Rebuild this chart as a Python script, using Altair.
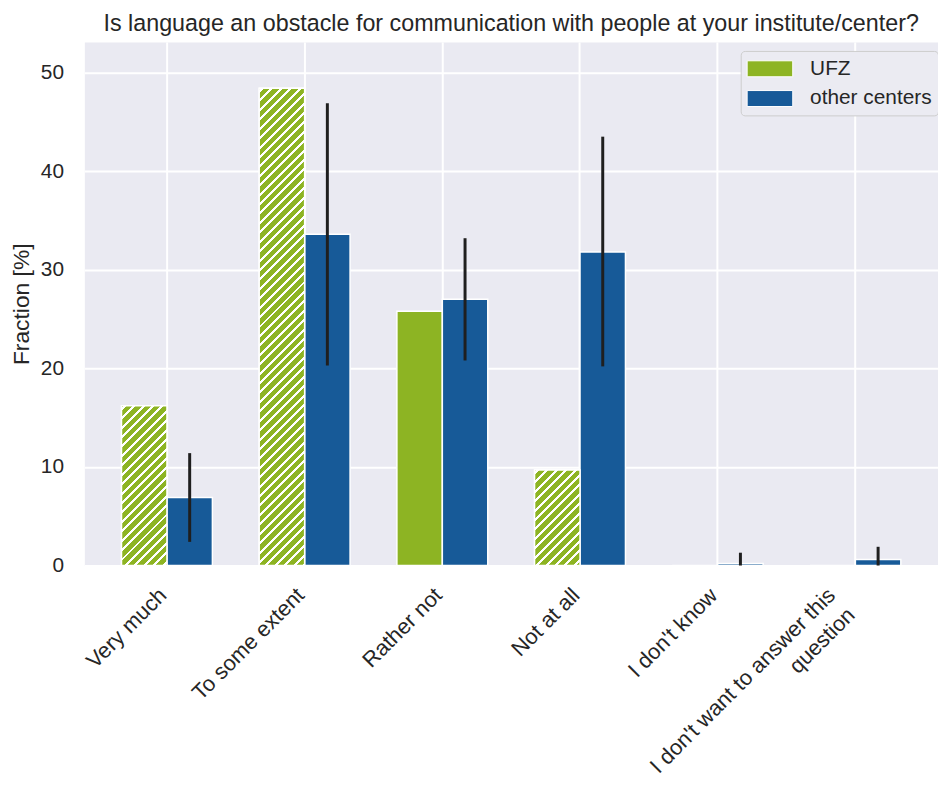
import altair as alt
import pandas as pd

# ---- data ----
categories = ["Very much", "To some extent", "Rather not", "Not at all",
              "I don't know", "I don't want to answer this\nquestion"]
groups = ["UFZ", "other centers"]
ufz_values = [16.2, 48.4, 25.8, 9.7, 0.0, 0.0]
other_values = [6.9, 33.6, 27.0, 31.8, 0.2, 0.6]
other_low = [2.4, 20.3, 20.8, 20.2, 0.0, 0.0]
other_high = [11.4, 46.9, 33.2, 43.5, 1.3, 1.9]
ufz_hatched = [True, True, False, True, False, False]
y_ticks = [0, 10, 20, 30, 40, 50]

# ---- style ----
colors = ["#8db423", "#175a98"]
bg = "#eaeaf2"
txt = "#262626"
font = "Liberation Sans"
W, H = 861, 528
YMAX = 53.1
P_INNER, P_OUTER = 0.34, 0.27

rows = []
for i, c in enumerate(categories):
    rows.append({"category": c, "group": groups[0], "value": ufz_values[i],
                 "lo": None, "hi": None})
    rows.append({"category": c, "group": groups[1], "value": other_values[i],
                 "lo": other_low[i], "hi": other_high[i]})
df = pd.DataFrame(rows)

x_enc = alt.X(
    "category:N", sort=categories, title=None,
    scale=alt.Scale(paddingInner=P_INNER, paddingOuter=P_OUTER),
    axis=alt.Axis(
        labelAngle=-45, labelAlign="right", labelBaseline="alphabetic",
        labelFontSize=22, labelFont=font, labelColor=txt,
        labelPadding=31, labelLimit=500, labelOverlap=False, labelFlush=False,
        labelLineHeight=28,
        labelOffset={"condition": {"test": "indexof(datum.value, 'question') >= 0", "value": -19},
                     "value": 1},
        labelExpr="split(datum.value, '\\n')",
        ticks=False, tickSize=0, domain=False, bandPosition=0.5,
        grid=True, gridColor="white", gridWidth=2,
    ),
)
xoff_enc = alt.XOffset("group:N", sort=groups,
                       scale=alt.Scale(domain=groups, paddingInner=0, paddingOuter=0))
y_enc = alt.Y(
    "value:Q", title="Fraction [%]",
    scale=alt.Scale(domain=[0, YMAX], nice=False, zero=True),
    axis=alt.Axis(
        values=y_ticks, labelFontSize=21, labelFont=font, labelColor=txt,
        labelPadding=21, ticks=False, tickSize=0, domain=False,
        grid=True, gridColor="white", gridWidth=2,
        titleFontSize=23, titleFont=font, titleFontWeight="normal", titleColor=txt,
        titleAngle=-90, titleX=-56, titleY=H / 2, titleAlign="center",
        titleBaseline="alphabetic",
    ),
)

base = alt.Chart(df)

bars = base.mark_bar(stroke="white", strokeWidth=1.5).encode(
    x=x_enc, xOffset=xoff_enc, y=y_enc,
    color=alt.Color(
        "group:N", sort=groups,
        scale=alt.Scale(domain=groups, range=colors),
        legend=alt.Legend(
            title=None, orient="none", legendX=662, legendY=9,
            symbolType="M-1,-0.7H3V0.7H-1Z", symbolSize=529,
            symbolStrokeColor="white", symbolStrokeWidth=1, symbolOpacity=1,
            labelFontSize=21, labelFont=font, labelColor=txt, labelOffset=40,
            fillColor="#ebebf2", strokeColor="#cccccc", cornerRadius=4,
            padding=6, rowPadding=7,
        ),
    ),
)

# hatch ("///") for some UFZ bars, as a striped linear gradient fill
step = W / (len(categories) - P_INNER + 2 * P_OUTER)
bar_w = step * (1 - P_INNER) / 2
period, line_w = 9.5, 3.0
layers = [bars]
for i, c in enumerate(categories):
    if not ufz_hatched[i]:
        continue
    h = ufz_values[i] * H / YMAX
    w = bar_w
    L = w + h
    stops = []
    s = 2.0
    while s < L:
        a, b = s / L, min((s + line_w) / L, 1.0)
        stops += [alt.GradientStop(color=colors[0], offset=a),
                  alt.GradientStop(color="white", offset=a),
                  alt.GradientStop(color="white", offset=b),
                  alt.GradientStop(color=colors[0], offset=b)]
        s += period
    stops = [alt.GradientStop(color=colors[0], offset=0)] + stops + \
            [alt.GradientStop(color=colors[0], offset=1)]
    k = L / (w * w + h * h)
    grad = alt.LinearGradient(gradient="linear", stops=stops,
                              x1=0, y1=0, x2=w * k, y2=h * k)
    layers.append(
        base.transform_filter(
            (alt.datum.category == c) & (alt.datum.group == groups[0])
        ).mark_bar(fill=grad, stroke="white", strokeWidth=1.5).encode(
            x=x_enc, xOffset=xoff_enc, y=y_enc)
    )

errs = base.transform_filter(alt.datum.group == groups[1]).mark_rule(
    color="#1f1f1f", strokeWidth=3
).encode(x=x_enc, xOffset=xoff_enc, y="lo:Q", y2="hi:Q")
layers.append(errs)

chart = alt.layer(*layers).properties(
    width=W, height=H,
    title=alt.TitleParams(
        "Is language an obstacle for communication with people at your institute/center?",
        fontSize=23.5, font=font, fontWeight="normal", color=txt,
        anchor="middle", offset=7,
    ),
    padding={"left": 77, "top": 31, "right": 0, "bottom": 212},
    autosize=alt.AutoSizeParams(type="none"),
).configure(background="white").configure_view(fill=bg, stroke="transparent")

chart.save("out.html", embed_options={"renderer": "svg", "actions": False})
